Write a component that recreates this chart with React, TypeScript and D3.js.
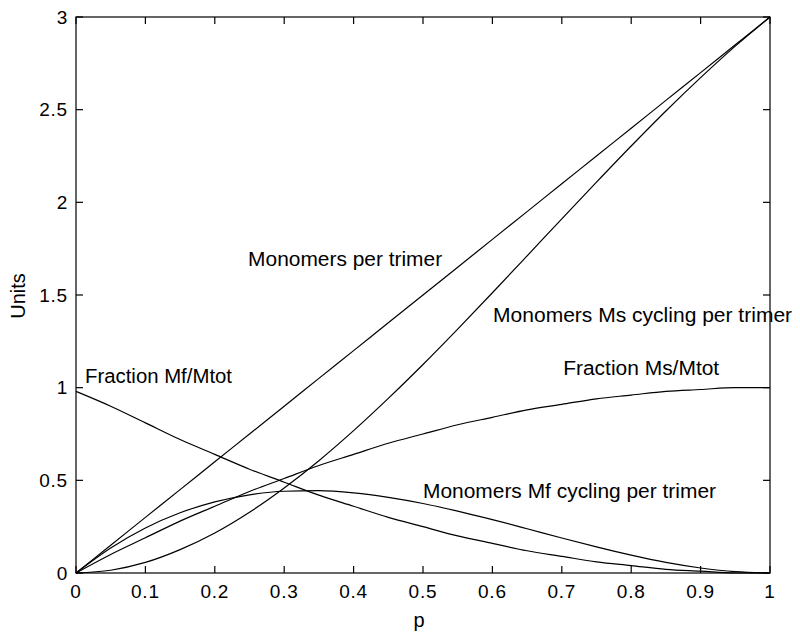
import React from "react";
import * as d3 from "d3";

const pValues = [0, 0.05, 0.1, 0.15, 0.2, 0.25, 0.3, 0.35, 0.4, 0.45, 0.5, 0.55, 0.6, 0.65, 0.7, 0.75, 0.8, 0.85, 0.9, 0.95, 1.0];
const monomersPerTrimer = [0.0, 0.15, 0.3, 0.45, 0.6, 0.75, 0.9, 1.05, 1.2, 1.35, 1.5, 1.65, 1.8, 1.95, 2.1, 2.25, 2.4, 2.55, 2.7, 2.85, 3.0];
const msCycling = [0.0, 0.015, 0.057, 0.126, 0.216, 0.328, 0.459, 0.606, 0.768, 0.942, 1.125, 1.316, 1.512, 1.711, 1.911, 2.109, 2.304, 2.493, 2.673, 2.843, 3.0];
const fractionMs = [0.0, 0.1, 0.19, 0.28, 0.36, 0.44, 0.51, 0.58, 0.64, 0.7, 0.75, 0.8, 0.84, 0.88, 0.91, 0.94, 0.96, 0.98, 0.99, 1.0, 1.0];
const fractionMf = [0.98, 0.9, 0.81, 0.72, 0.64, 0.56, 0.49, 0.42, 0.36, 0.3, 0.25, 0.2, 0.16, 0.12, 0.09, 0.06, 0.04, 0.02, 0.01, 0.0, 0.0];
const mfCycling = [0.0, 0.135, 0.243, 0.325, 0.384, 0.422, 0.441, 0.444, 0.432, 0.408, 0.375, 0.334, 0.288, 0.239, 0.189, 0.141, 0.096, 0.057, 0.027, 0.007, 0.0];

const seriesList = [monomersPerTrimer, msCycling, fractionMs, fractionMf, mfCycling];

const labelTexts = ["Monomers per trimer", "Monomers Ms cycling per trimer", "Fraction Ms/Mtot", "Fraction Mf/Mtot", "Monomers Mf cycling per trimer"];
const labelP = [0.248, 0.601, 0.702, 0.013, 0.5];
const labelV = [1.657, 1.354, 1.068, 1.025, 0.405];
const labelWidths = [194, 299, 156, 147, 293];

const xTicks = [0, 0.1, 0.2, 0.3, 0.4, 0.5, 0.6, 0.7, 0.8, 0.9, 1];
const yTicks = [0, 0.5, 1, 1.5, 2, 2.5, 3];

export default function App() {
  const W = 800, H = 641;
  const left = 76, right = 770, top = 17, bottom = 573;
  const x = d3.scaleLinear().domain([0, 1]).range([left, right]);
  const y = d3.scaleLinear().domain([0, 3]).range([bottom, top]);
  const line = d3
    .line<number>()
    .x((_, i) => x(pValues[i]))
    .y((d) => y(d))
    .curve(d3.curveMonotoneX);
  const tl = 7;
  const font = "Arial, 'Liberation Sans', Helvetica, sans-serif";
  const fmt = (v: number) => String(+v.toFixed(2));

  return (
    <svg width={W} height={H} style={{ position: "absolute", left: 0, top: 0, background: "#fff" }} fontFamily={font}>
      <rect x={0} y={0} width={W} height={H} fill="#fff" />
      {seriesList.map((s, i) => (
        <path key={i} d={line(s) || ""} fill="none" stroke="#000" strokeWidth={1.2} />
      ))}
      <rect x={left} y={top} width={right - left} height={bottom - top} fill="none" stroke="#000" strokeWidth={1.2} />
      {xTicks.map((t) => (
        <g key={"x" + t}>
          <line x1={x(t)} x2={x(t)} y1={bottom} y2={bottom - tl} stroke="#000" strokeWidth={1.2} />
          <line x1={x(t)} x2={x(t)} y1={top} y2={top + tl} stroke="#000" strokeWidth={1.2} />
          <text x={x(t)} y={598} fontSize={19} textAnchor="middle" letterSpacing={0.8}>{fmt(t)}</text>
        </g>
      ))}
      {yTicks.map((t) => (
        <g key={"y" + t}>
          <line x1={left} x2={left + tl} y1={y(t)} y2={y(t)} stroke="#000" strokeWidth={1.2} />
          <line x1={right} x2={right - tl} y1={y(t)} y2={y(t)} stroke="#000" strokeWidth={1.2} />
          <text x={68} y={y(t)} dy="0.35em" fontSize={19} textAnchor="end" letterSpacing={0.8}>{fmt(t)}</text>
        </g>
      ))}
      <text x={419} y={627} fontSize={20} textAnchor="middle">p</text>
      <text transform="translate(25,296) rotate(-90)" fontSize={20} textAnchor="middle">Units</text>
      {labelTexts.map((t, i) => (
        <text
          key={t}
          x={x(labelP[i])}
          y={y(labelV[i])}
          fontSize={20}
          textLength={labelWidths[i]}
          lengthAdjust="spacingAndGlyphs"
        >
          {t}
        </text>
      ))}
    </svg>
  );
}
